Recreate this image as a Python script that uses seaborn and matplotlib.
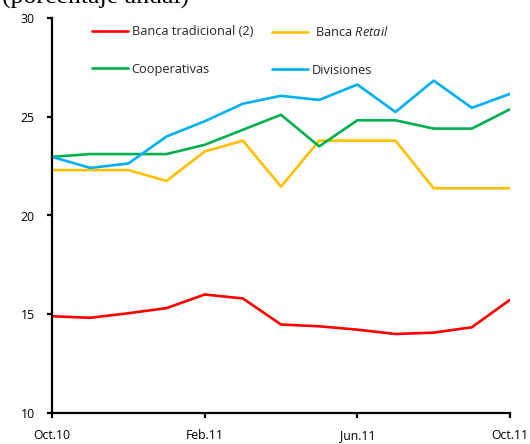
import matplotlib
matplotlib.use("Agg")
import matplotlib.pyplot as plt
import seaborn as sns
import pandas as pd

# Monthly periods, Oct.10 to Oct.11
months = ["Oct.10", "Nov.10", "Dic.10", "Ene.11", "Feb.11", "Mar.11", "Abr.11",
          "May.11", "Jun.11", "Jul.11", "Ago.11", "Sep.11", "Oct.11"]
tick_labels = ["Oct.10", "Feb.11", "Jun.11", "Oct.11"]

# Annual rates (percent)
banca_tradicional = [14.90, 14.82, 15.05, 15.31, 16.00, 15.80, 14.48,
                     14.39, 14.22, 14.00, 14.07, 14.34, 15.73]
banca_retail = [22.30, 22.30, 22.30, 21.75, 23.24, 23.79, 21.46,
                23.79, 23.79, 23.79, 21.38, 21.38, 21.38]
cooperativas = [22.97, 23.11, 23.11, 23.11, 23.58, 24.34, 25.10,
                23.50, 24.82, 24.82, 24.40, 24.40, 25.38]
divisiones = [22.97, 22.41, 22.63, 24.00, 24.77, 25.66, 26.06,
              25.85, 26.63, 25.24, 26.83, 25.45, 26.16]

series_names = ["Banca tradicional (2)", " Banca $\\it{Retail}$", "Cooperativas", "Divisiones"]
series_values = [banca_tradicional, banca_retail, cooperativas, divisiones]
colors = ["#FF0000", "#FFC000", "#00B050", "#00B0F0"]

rows = []
for name, vals in zip(series_names, series_values):
    for i, (m, v) in enumerate(zip(months, vals)):
        rows.append({"pos": i, "mes": m, "serie": name, "valor": v})
df = pd.DataFrame(rows)

sns.set_theme(style="ticks")
plt.rcParams["font.family"] = ["Open Sans", "DejaVu Sans"]
plt.rcParams["mathtext.fontset"] = "custom"
plt.rcParams["mathtext.it"] = "Open Sans:italic"
plt.rcParams["mathtext.rm"] = "Open Sans"

fig = plt.figure(figsize=(5.30, 4.44), dpi=100)
ax = fig.add_axes([52 / 530, 31 / 444, 458 / 530, 395 / 444])

sns.lineplot(data=df, x="pos", y="valor", hue="serie", hue_order=series_names,
             palette=colors, linewidth=1.9, ax=ax)

ax.set_xlim(0, len(months) - 1)
ax.set_ylim(10, 30)
ax.set_yticks([10, 15, 20, 25, 30])
ax.set_xticks([months.index(t) for t in tick_labels])
ax.set_xticklabels(tick_labels)
ax.set_xlabel("")
ax.set_ylabel("")

for side in ["top", "right"]:
    ax.spines[side].set_visible(False)
for side in ["left", "bottom"]:
    ax.spines[side].set_linewidth(1.6)
    ax.spines[side].set_color("black")
ax.tick_params(axis="both", direction="out", length=3.5, width=1.6,
               labelsize=8.8, colors="black")
ax.tick_params(axis="x", pad=8)
ax.tick_params(axis="y", pad=9)

# Two legend columns: traditional/cooperatives on the left, retail/divisions on the right
handles, labels = ax.get_legend_handles_labels()
ax.get_legend().remove()
lookup = dict(zip(labels, handles))
leg_kw = dict(loc="upper left", frameon=False, fontsize=9.2, handlelength=2.8,
              handletextpad=0.3, labelspacing=1.92, borderpad=0, borderaxespad=0)
left_cols = [series_names[0], series_names[2]]
right_cols = [series_names[1], series_names[3]]
leg1 = ax.legend([lookup[n] for n in left_cols], left_cols,
                 bbox_to_anchor=(40 / 458, 0.982), **leg_kw)
ax.add_artist(leg1)
leg2 = ax.legend([lookup[n] for n in right_cols], right_cols,
                 bbox_to_anchor=(220 / 458, 0.982), **leg_kw)
for leg in (leg1, leg2):
    for line in leg.get_lines():
        line.set_linewidth(1.9)

fig.text(0.004, 440 / 444, "(porcentaje anual)", family="Liberation Serif",
         fontsize=18.5, va="baseline", ha="left", color="black")

fig.savefig("out.png", dpi=100)
